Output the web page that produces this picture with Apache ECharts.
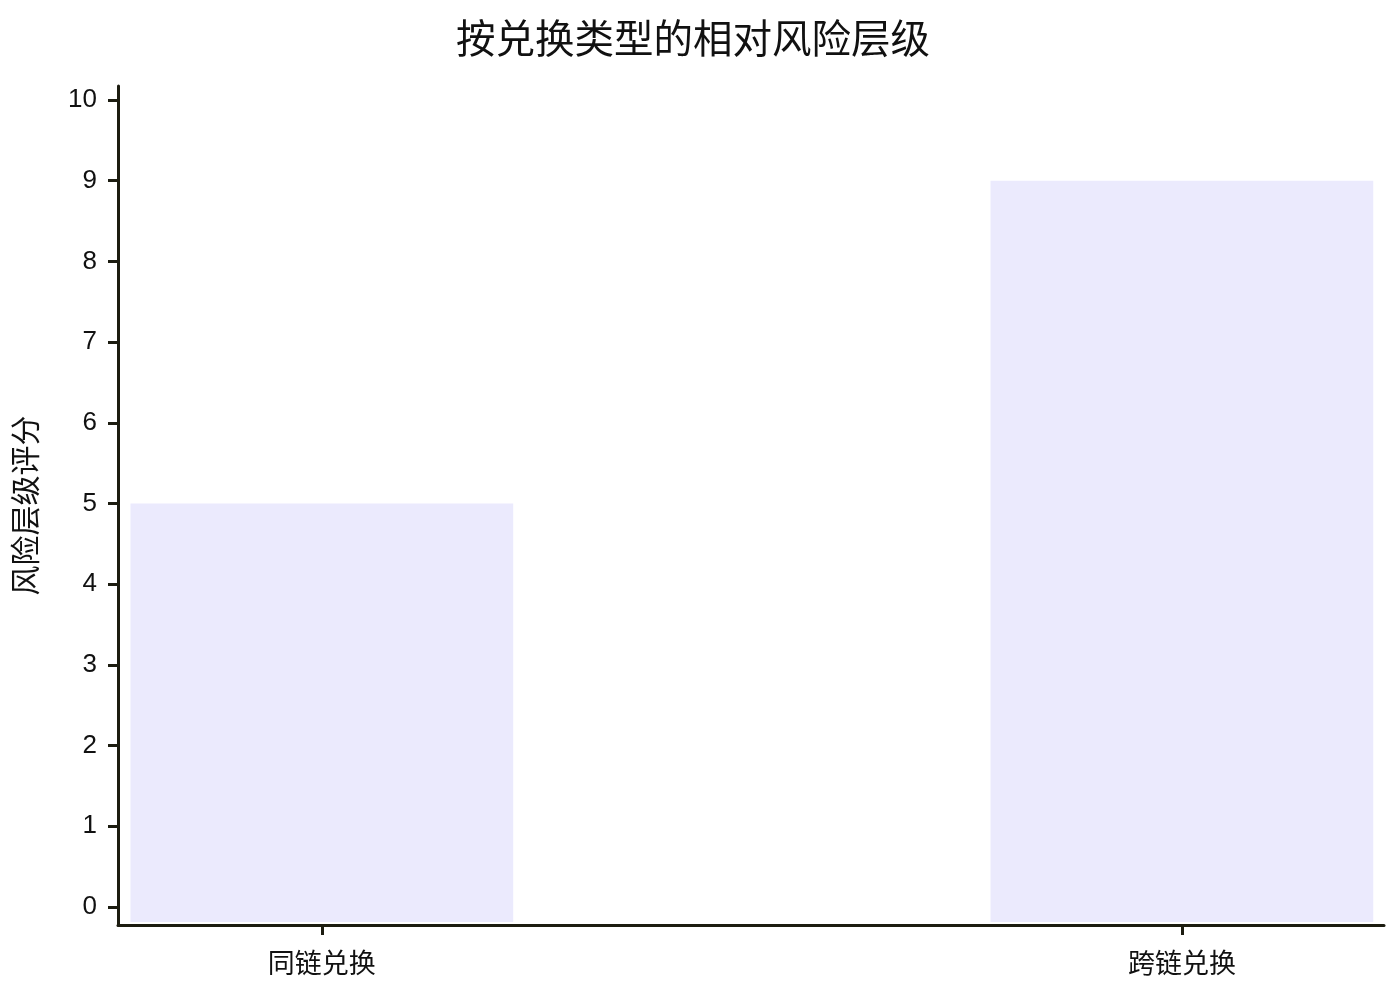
<!DOCTYPE html>
<html>
<head>
<meta charset="utf-8">
<title>按兑换类型的相对风险层级</title>
<script src="https://cdn.jsdelivr.net/npm/echarts@6/dist/echarts.min.js"></script>
<style>
  html, body { margin: 0; padding: 0; background: #fff; }
  #chart { width: 1400px; height: 1000px; }
</style>
</head>
<body>
<div id="chart"></div>
<script>
// data
const categories = ['同链兑换', '跨链兑换'];
const riskScores = [5, 9];
const yTicks = [0, 1, 2, 3, 4, 5, 6, 7, 8, 9, 10];

const cjk = "'Noto Sans CJK SC', 'Liberation Sans', sans-serif";
const axisColor = '#1c1c10';
const barColor = '#EBEAFD';

// value range of the axes (axes overhang the data a little, like the source)
const yMin = -0.223, yMax = 10.173;
const xMin = -0.237, xMax = 1.235;
const barUnits = 0.445;

const chart = echarts.init(document.getElementById('chart'));

chart.setOption({
  animation: false,
  title: {
    text: '按兑换类型的相对风险层级',
    left: 688,
    textAlign: 'center',
    top: 13,
    textStyle: { fontFamily: cjk, fontSize: 39.5, fontWeight: 'normal', color: '#111' }
  },
  grid: { left: 118, right: 16, top: 86, bottom: 75 },
  xAxis: {
    type: 'value',
    min: xMin,
    max: xMax,
    splitLine: { show: false },
    axisLine: { show: true, onZero: false, lineStyle: { color: axisColor, width: 3 } },
    axisTick: { show: true, length: 10, customValues: [0, 1], lineStyle: { color: axisColor, width: 3 } },
    axisLabel: {
      customValues: [0, 1],
      formatter: v => categories[Math.round(v)] || '',
      fontFamily: cjk, fontSize: 27, color: '#111', margin: 24
    }
  },
  yAxis: {
    type: 'value',
    min: yMin,
    max: yMax,
    name: '风险层级评分',
    nameLocation: 'middle',
    nameRotate: 90,
    nameGap: 78,
    nameTextStyle: { fontFamily: cjk, fontSize: 30, color: '#111' },
    splitLine: { show: false },
    axisLine: { show: true, onZero: false, lineStyle: { color: axisColor, width: 3 } },
    axisTick: { show: true, length: 10, customValues: yTicks, lineStyle: { color: axisColor, width: 3 } },
    axisLabel: {
      customValues: yTicks,
      fontFamily: "'Liberation Sans', Arial, sans-serif",
      fontSize: 26, color: '#111', margin: 21
    }
  },
  series: [{
    type: 'custom',
    data: riskScores.map((v, i) => [i, v]),
    renderItem: (params, api) => {
      const x = api.value(0);
      const top = api.coord([x, api.value(1)]);
      const base = api.coord([x, yMin]);
      const w = api.size([barUnits, 0])[0];
      return {
        type: 'rect',
        shape: { x: top[0] - w / 2, y: top[1], width: w, height: base[1] - top[1] - 3 },
        style: { fill: barColor }
      };
    }
  }]
});
</script>
</body>
</html>
